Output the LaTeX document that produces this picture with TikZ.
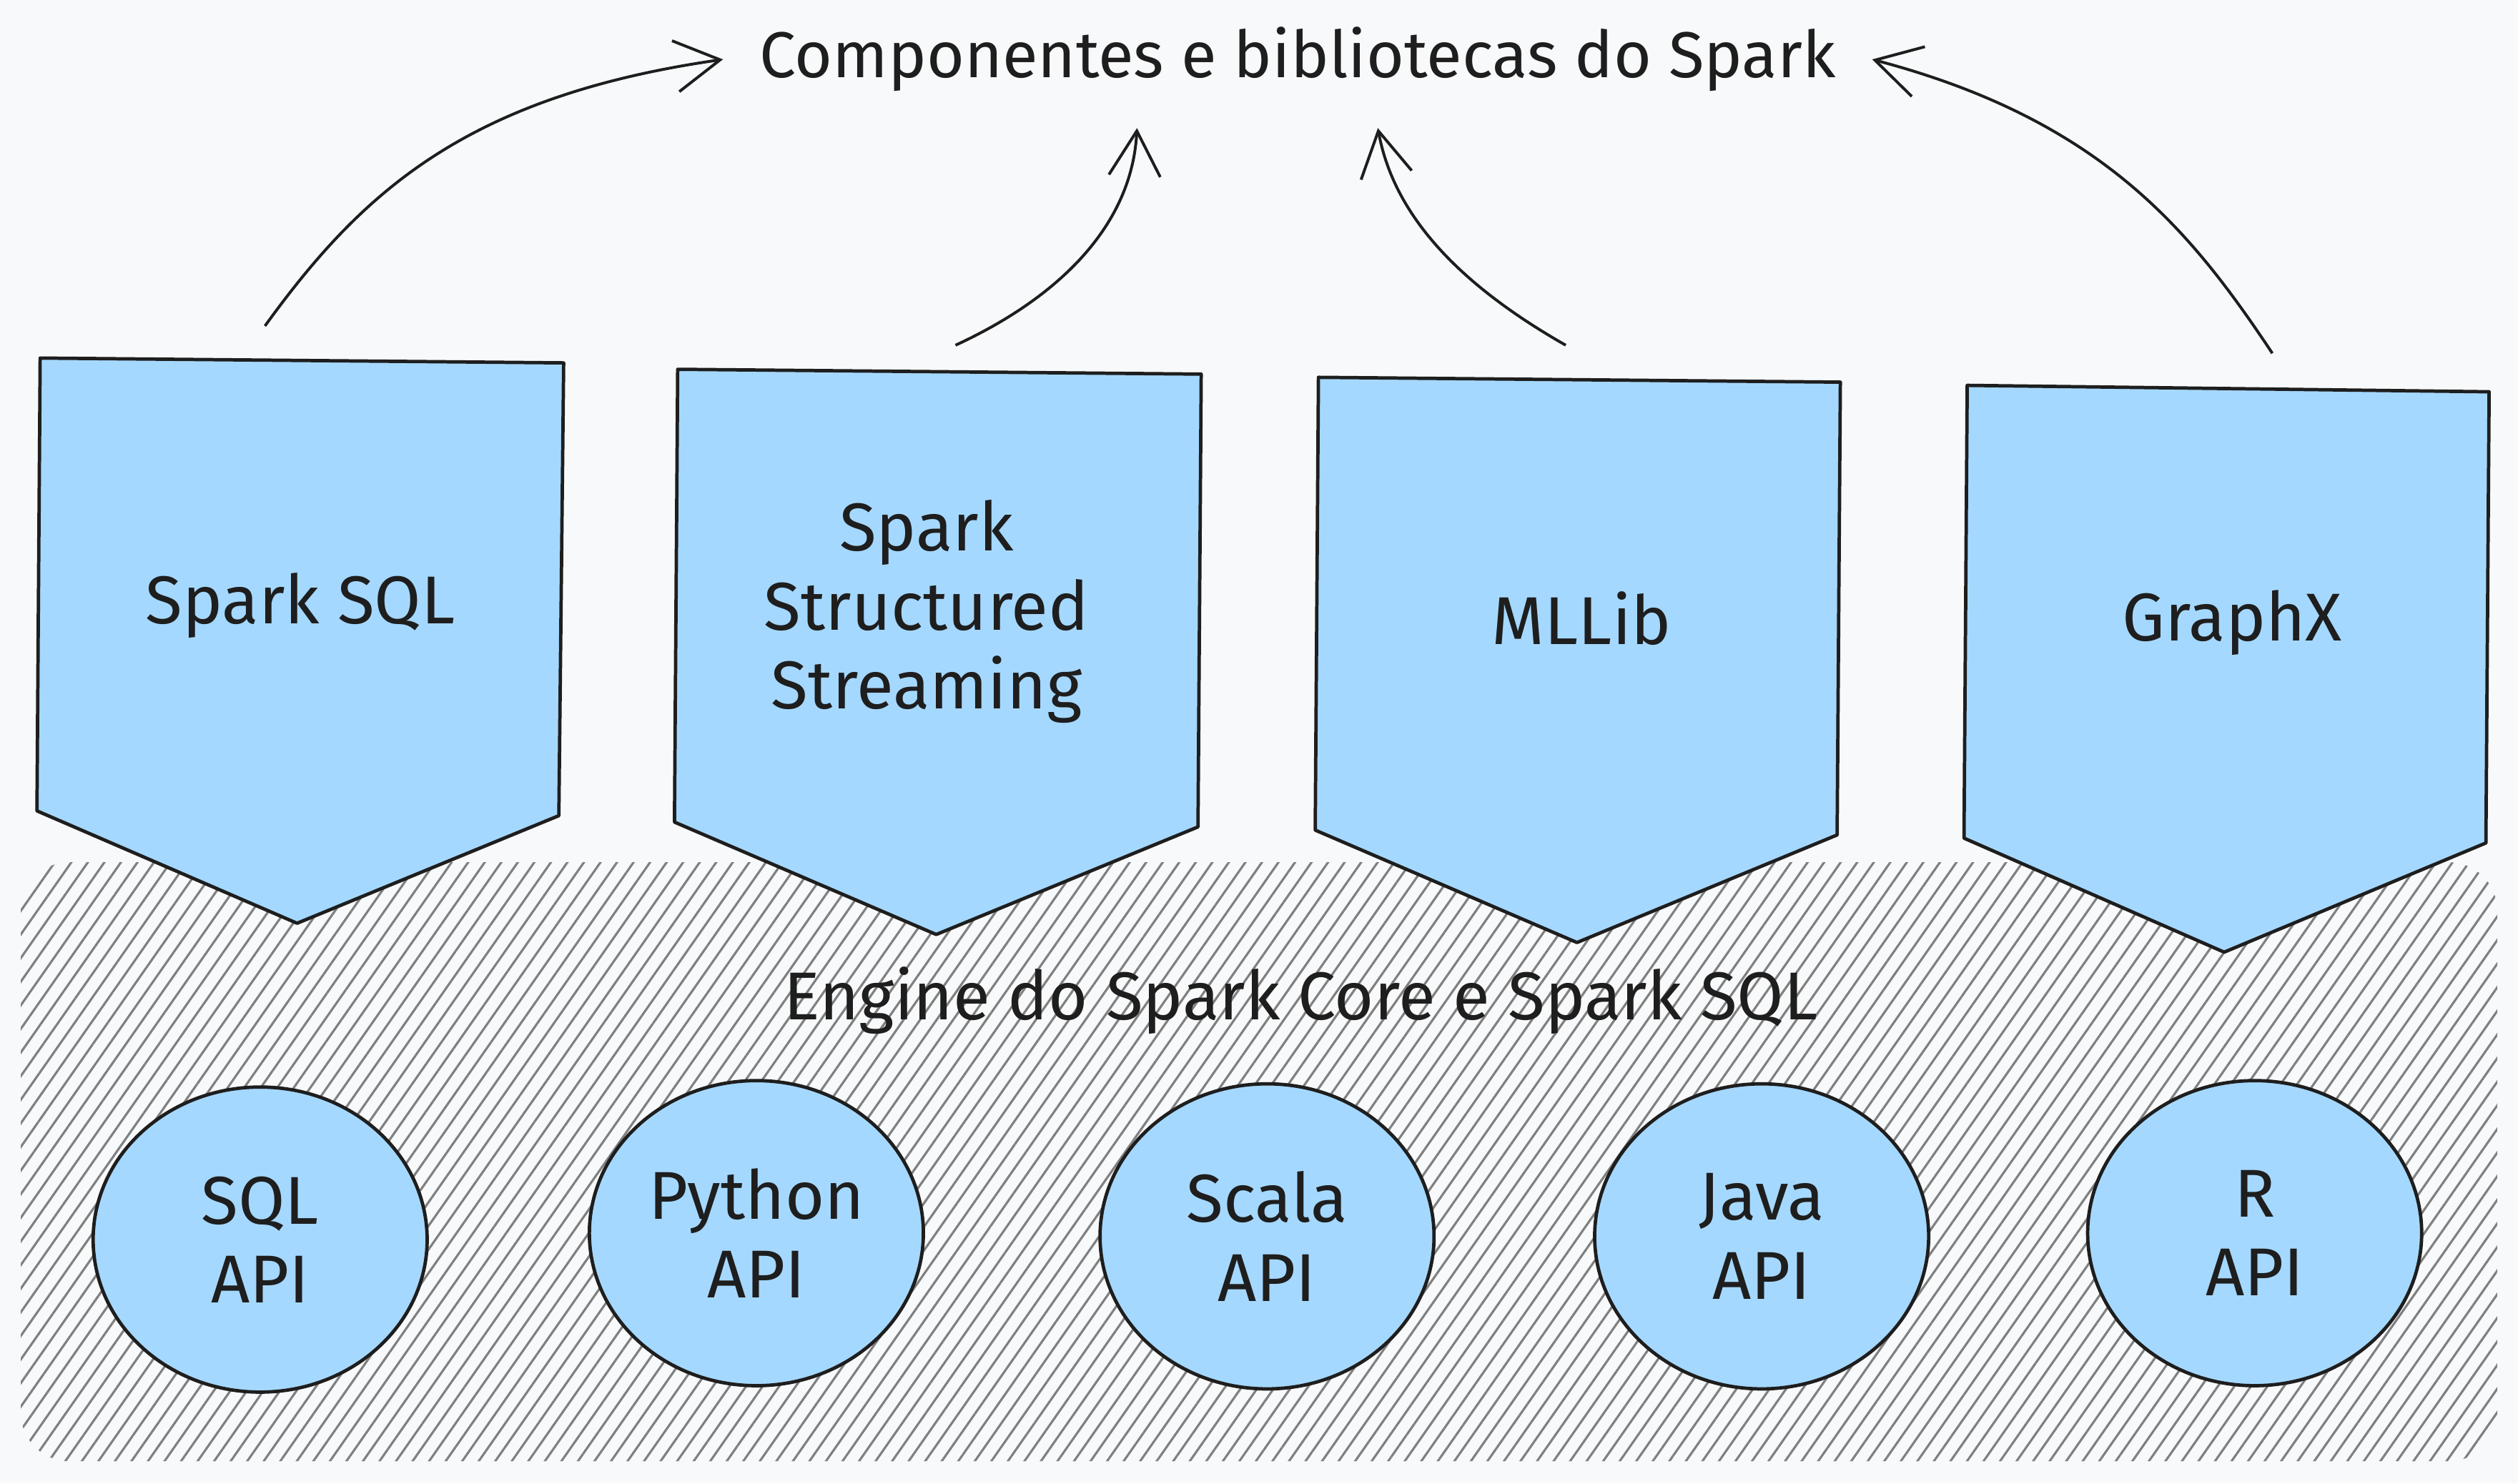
\documentclass[tikz,border=0pt]{standalone}
\usepackage{fontspec}
\setmainfont{Fira Sans}
\usetikzlibrary{shapes.geometric, arrows.meta, positioning, patterns.meta}

\definecolor{bgpaper}{HTML}{F8F9FA}
\definecolor{skyfill}{HTML}{A5D8FF}
\definecolor{inkdark}{HTML}{1E1E1E}
\definecolor{hatchgray}{HTML}{808080}

\begin{document}
\begin{tikzpicture}[
    font=\fontsize{12}{14}\selectfont,
    text=inkdark,
    % --- estilos ---
    % placas das bibliotecas (pentagono apontando para baixo)
    libplate/.style={draw=inkdark, line width=0.6pt, fill=skyfill, line join=round},
    libtext/.style={align=center, inner sep=2pt},
    % circulos das APIs
    apicircle/.style={ellipse, draw=inkdark, line width=0.6pt, fill=skyfill, minimum width=2.08cm, minimum height=1.9cm, align=center, inner sep=1pt},
    % area hachurada do engine
    enginearea/.style={pattern={Lines[angle=55, distance=2.4pt, line width=0.4pt]}, pattern color=hatchgray, rounded corners=0.3cm},
    % setas
    libarrow/.style={-{Straight Barb[length=2.8mm, width=3.2mm]}, draw=inkdark, line width=0.5pt}
]

% ==================== 0. fundo ====================
\fill[bgpaper] (0,0) rectangle (15.68,-9.24);
\useasboundingbox (0,0) rectangle (15.68,-9.24);

% ==================== 1. engine (hachurado) ====================
\fill[bgpaper, rounded corners=0.3cm] (0.13,-5.37) rectangle (15.55,-9.10);
\fill[enginearea] (0.13,-5.37) rectangle (15.55,-9.10);
\node (engine) at (8.10,-6.23) {Engine do Spark Core e Spark SQL};

% ==================== 2. bibliotecas ====================
\draw[libplate] (0.25,-2.23) -- (3.51,-2.26) -- (3.48,-5.08) -- (1.85,-5.75) -- (0.23,-5.05) -- cycle;
\draw[libplate] (4.22,-2.30) -- (7.48,-2.33) -- (7.46,-5.15) -- (5.83,-5.82) -- (4.20,-5.12) -- cycle;
\draw[libplate] (8.21,-2.35) -- (11.46,-2.38) -- (11.44,-5.20) -- (9.82,-5.87) -- (8.19,-5.17) -- cycle;
\draw[libplate] (12.25,-2.40) -- (15.50,-2.44) -- (15.48,-5.25) -- (13.85,-5.93) -- (12.23,-5.22) -- cycle;

\node[libtext] (sparksql) at (1.87,-3.77) {Spark SQL};
\node[libtext] (streaming) at (5.77,-3.81) {Spark\\Structured\\Streaming};
\node[libtext] (mllib) at (9.85,-3.85) {MLLib};
\node[libtext] (graphx) at (13.90,-3.88) {GraphX};

% ==================== 3. APIs ====================
\node[apicircle] (sqlapi) at (1.62,-7.72) {SQL\\API};
\node[apicircle] (pythonapi) at (4.71,-7.68) {Python\\API};
\node[apicircle] (scalaapi) at (7.89,-7.70) {Scala\\API};
\node[apicircle] (javaapi) at (10.97,-7.70) {Java\\API};
\node[apicircle] (rapi) at (14.04,-7.68) {R\\API};

% ==================== 4. titulo e setas ====================
\node[inner sep=0.22cm, font=\fontsize{11.5}{14}\selectfont] (title) at (8.08,-0.37) {Componentes e bibliotecas do Spark};

\coordinate (sqlout) at (1.65,-2.03);
\coordinate (streamout) at (5.95,-2.15);
\coordinate (mlout) at (9.75,-2.15);
\coordinate (graphout) at (14.15,-2.20);

\draw[libarrow] (sqlout) .. controls (2.25,-1.20) and (2.90,-0.60) .. (title.west);
\draw[libarrow] (streamout) .. controls (6.60,-1.85) and (7.05,-1.40) .. ([xshift=-1cm]title.south);
\draw[libarrow] (mlout) .. controls (9.10,-1.78) and (8.68,-1.35) .. ([xshift=0.5cm]title.south);
\draw[libarrow] (graphout) .. controls (13.65,-1.45) and (13.10,-0.75) .. (title.east);

\end{tikzpicture}
\end{document}
